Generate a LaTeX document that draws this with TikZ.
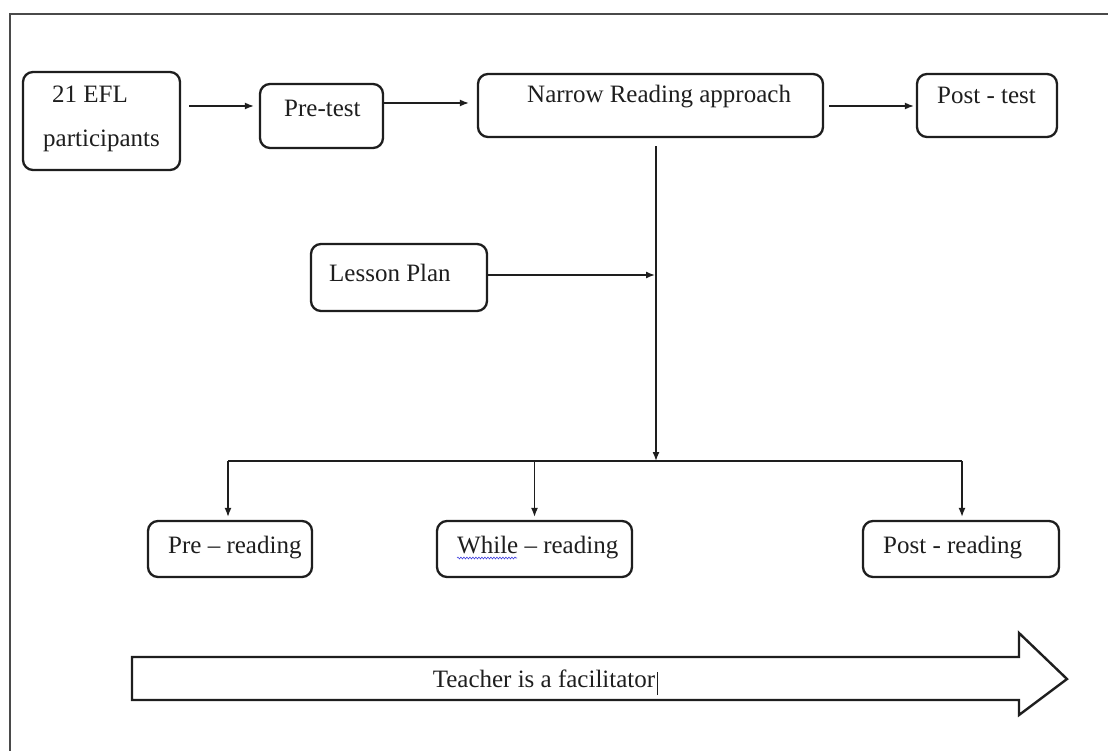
\documentclass[tikz,border=0pt]{standalone}
\usepackage{fontspec}
\setmainfont{Liberation Serif}
\usetikzlibrary{arrows.meta,decorations.pathmorphing}
\definecolor{ink}{HTML}{1E1E1E}
\definecolor{framegray}{HTML}{4A4A4A}
\definecolor{spellblue}{HTML}{4040E0}
\tikzset{
  box/.style={draw=ink, line width=2.3pt, rounded corners=10pt, fill=white, inner sep=0pt},
  txt/.style={inner sep=0pt, text=ink, font=\fontsize{25}{30}\selectfont},
  conn/.style={draw=ink, line width=1.4pt, -{Latex[length=9pt,width=7pt]}},
  plain/.style={draw=ink, line width=1.4pt},
}
\begin{document}
\begin{tikzpicture}[x=1pt,y=-1pt]
\useasboundingbox (0,0) rectangle (1108,751);
% frame (cropped)
\draw[framegray, line width=2pt] (10,751) -- (10,14) -- (1108,14);

% boxes
\node[box, minimum width=157pt, minimum height=98pt] (n1) at (101.5,121) {};
\node[box, minimum width=123pt, minimum height=64pt] (pre) at (321.5,116) {};
\node[box, minimum width=345pt, minimum height=63pt] (narrow) at (650.5,105.5) {};
\node[box, minimum width=140pt, minimum height=63pt] (post) at (987,105.5) {};
\node[box, minimum width=176pt, minimum height=67pt] (lesson) at (399,277.5) {};
\node[box, minimum width=164pt, minimum height=56pt] (prer) at (230,549) {};
\node[box, minimum width=195pt, minimum height=56pt] (while) at (534.5,549) {};
\node[box, minimum width=196pt, minimum height=56pt] (postr) at (961,549) {};

% texts
\node[txt, anchor=base west] (t1a) at (52,103) {21 EFL};
\node[txt, anchor=base west] (t1b) at (43,147) {participants};
\node[txt, anchor=base west] (t2) at (284,117) {Pre-test};
\node[txt, anchor=base west] (t3) at (527,103) {Narrow Reading approach};
\node[txt, anchor=base west] (t4) at (937,104) {Post - test};
\node[txt, anchor=base west] (t5) at (329,282) {Lesson Plan};
\node[txt, anchor=base west] (t6) at (168,553) {Pre -- reading};
\node[txt, anchor=base west] (t7) at (457,553) {While -- reading};
\node[txt, anchor=base west] (t8) at (883,553) {Post - reading};
\draw[spellblue, line width=0.6pt, decoration={snake, amplitude=0.9pt, segment length=3pt}, decorate] (457,558) -- (517,558);

% top row connectors
\draw[conn] ([xshift=8pt,yshift=15pt]n1.east) -- ([xshift=-5pt,yshift=10pt]pre.west);
\draw[conn] ([yshift=13pt]pre.east) -- ([xshift=-8pt,yshift=2.5pt]narrow.west);
\draw[conn] ([xshift=5pt,yshift=-0.5pt]narrow.east) -- ([xshift=-2pt,yshift=-0.5pt]post.west);

% vertical line and lesson plan
\coordinate (j) at (656,461);
\coordinate (lp) at (655,275);
\draw[conn] ([xshift=5.5pt,yshift=-8pt]narrow.south) -- (j);
\draw[conn] ([yshift=2.5pt]lesson.east) -- (lp);

% branches
\draw[plain] ([xshift=-2pt]prer.north |- j) -- ([xshift=1pt]postr.north |- j);
\draw[conn] ([xshift=-2pt]prer.north |- j) -- ([xshift=-2pt,yshift=3pt]prer.north);
\draw[conn] (while.north |- j) -- ([yshift=3pt]while.north);
\draw[conn] ([xshift=1pt]postr.north |- j) -- ([xshift=1pt,yshift=3pt]postr.north);

% big arrow
\draw[ink, line width=2.4pt, line join=miter, fill=white]
  (132,657) -- (1019,657) -- (1019,633) -- (1067,679) -- (1019,715) -- (1019,700) -- (132,700) -- cycle;
\node[txt, anchor=base] (teacher) at (544,687) {Teacher is a facilitator};
\draw[ink, line width=0.9pt] ([xshift=2pt]teacher.base east) ++(0,8) -- ++(0,-23);
\end{tikzpicture}
\end{document}
